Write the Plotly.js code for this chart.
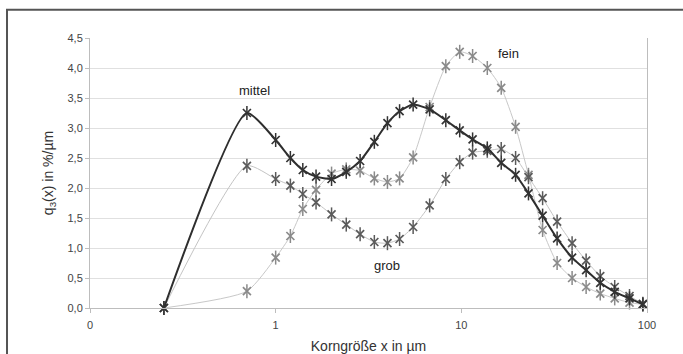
<!DOCTYPE html>
<html>
<head>
<meta charset="utf-8">
<script src="https://cdn.plot.ly/plotly-3.0.1.min.js"></script>
<style>html,body{margin:0;padding:0;background:#fff;}#chart{width:683px;height:354px;}</style>
</head>
<body>
<div id="chart"></div>
<script>
// Korngröße x in µm
const sizes = [0.25, 0.7, 1.0, 1.2, 1.4, 1.65, 2.0, 2.4, 2.85, 3.4, 4.0, 4.65, 5.5, 6.75, 8.25, 9.8, 11.5, 13.8, 16.4, 19.6, 23, 27.4, 32.8, 39.5, 47, 56, 67, 80.5, 95];
// q3(x) in %/µm
const mittel = [0, 3.25, 2.80, 2.50, 2.30, 2.19, 2.15, 2.27, 2.45, 2.77, 3.08, 3.28, 3.39, 3.31, 3.13, 2.96, 2.81, 2.66, 2.42, 2.22, 1.91, 1.54, 1.16, 0.84, 0.63, 0.42, 0.27, 0.16, 0.06];
const grob   = [0, 2.37, 2.15, 2.04, 1.90, 1.76, 1.56, 1.39, 1.23, 1.10, 1.08, 1.15, 1.35, 1.71, 2.15, 2.43, 2.59, 2.62, 2.65, 2.50, 2.18, 1.83, 1.44, 1.08, 0.79, 0.53, 0.35, 0.20, 0.07];
const fein   = [0, 0.28, 0.84, 1.20, 1.65, 1.97, 2.24, 2.31, 2.29, 2.16, 2.10, 2.16, 2.51, 3.35, 4.03, 4.27, 4.20, 4.00, 3.67, 3.02, 2.22, 1.30, 0.75, 0.50, 0.35, 0.24, 0.16, 0.09, 0.06];
const xTickVals = [0.1, 1, 10, 100];
const xTickText = ['0', '1', '10', '100'];
const yTickVals = [0, 0.5, 1, 1.5, 2, 2.5, 3, 3.5, 4, 4.5];

function series(y, lineColor, lineWidth, markColor) {
  return [
    {x: sizes, y: y, type: 'scatter', mode: 'lines+markers', cliponaxis: false,
     line: {color: lineColor, width: lineWidth, shape: 'spline', smoothing: 0.6},
     marker: {symbol: 'x-thin-open', size: 8, color: markColor, line: {color: markColor, width: 1.7}}, showlegend: false, hoverinfo: 'skip'},
    {x: sizes, y: y, type: 'scatter', mode: 'markers', cliponaxis: false,
     marker: {symbol: 'line-ns-open', size: 10, color: markColor, line: {color: markColor, width: 1.5}}, showlegend: false, hoverinfo: 'skip'}
  ];
}

const data = [].concat(
  series(fein, '#c8c8c8', 1, '#8a8a8a'),
  series(grob, '#c4c4c4', 1, '#5a5a5a'),
  series(mittel, '#2e2e2e', 2, '#333333')
);

const fam = 'Liberation Sans, Arial, sans-serif';

const layout = {
  width: 683, height: 354,
  margin: {l: 90, r: 36, t: 38, b: 46},
  paper_bgcolor: '#fff', plot_bgcolor: '#fff',
  separators: ',.',
  font: {family: fam, size: 11, color: '#333'},
  showlegend: false,
  xaxis: {
    type: 'log', range: [-1, 2],
    tickvals: xTickVals, ticktext: xTickText,
    showgrid: false, zeroline: false,
    showline: true, linecolor: '#bdbdbd', linewidth: 1,
    ticks: 'outside', ticklen: 4, tickcolor: '#bdbdbd', ticklabelstandoff: 3,
    tickfont: {family: fam, size: 11, color: '#444'},
    title: {text: 'Korngröße x in µm', font: {family: fam, size: 14, color: '#333'}, standoff: 11}
  },
  yaxis: {
    range: [0, 4.5], tickvals: yTickVals, tickformat: '.1f',
    showgrid: true, gridcolor: '#e0e0e0', gridwidth: 1, zeroline: false,
    showline: true, linecolor: '#bdbdbd', linewidth: 1, mirror: true,
    ticks: 'outside', ticklen: 4, tickcolor: '#bdbdbd',
    tickfont: {family: fam, size: 11, color: '#444'},
    title: {text: 'q<sub>3</sub>(x) in %/µm', font: {family: fam, size: 14, color: '#333'}, standoff: 10}
  },
  annotations: [
    {x: Math.log10(0.77), y: 3.62, xref: 'x', yref: 'y', text: 'mittel', showarrow: false, font: {family: fam, size: 13, color: '#222'}},
    {x: Math.log10(18), y: 4.24, xref: 'x', yref: 'y', text: 'fein', showarrow: false, font: {family: fam, size: 13, color: '#222'}},
    {x: Math.log10(3.96), y: 0.71, xref: 'x', yref: 'y', text: 'grob', showarrow: false, font: {family: fam, size: 13, color: '#222'}}
  ],
  shapes: [
    {type: 'rect', xref: 'paper', yref: 'paper', x0: -0.149, x1: 1.3, y0: -0.4, y1: 1.105,
     line: {color: '#555', width: 2}, fillcolor: 'rgba(0,0,0,0)', layer: 'above'}
  ]
};

Plotly.newPlot('chart', data, layout, {displayModeBar: false, staticPlot: true});
</script>
</body>
</html>
